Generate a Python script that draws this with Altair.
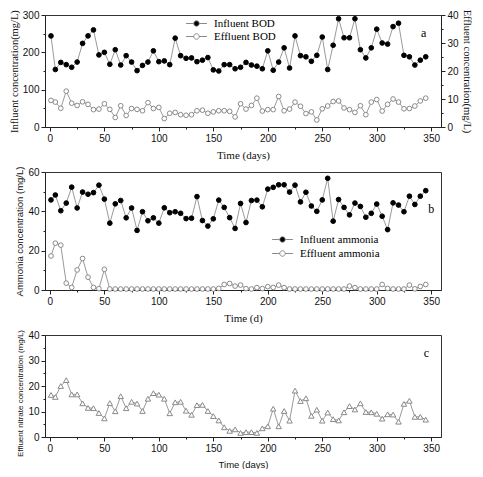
import altair as alt
import pandas as pd

# ---------------- data ----------------
days = [1, 5, 10, 15, 20, 25, 30, 35, 40, 45, 50, 55, 60, 65, 70, 75, 80, 85, 90, 95,
        100, 105, 110, 115, 120, 125, 130, 135, 140, 145, 150, 155, 160, 165, 170, 175, 180, 185, 190, 195,
        200, 205, 210, 215, 220, 225, 230, 235, 240, 245, 250, 255, 260, 265, 270, 275, 280, 285, 290, 295,
        300, 305, 310, 315, 320, 325, 330, 335, 340, 345]

bod_in = [244, 154, 173, 167, 160, 174, 224, 244, 260, 193,
          200, 168, 207, 166, 191, 174, 151, 165, 174, 204,
          175, 177, 167, 238, 191, 184, 185, 175, 179, 186,
          153, 150, 167, 167, 156, 160, 173, 166, 163, 156,
          204, 152, 174, 212, 158, 244, 191, 188, 176, 192,
          241, 154, 219, 290, 239, 239, 290, 207, 185, 212,
          262, 225, 222, 269, 278, 192, 188, 166, 179, 188]

bod_eff = [9.5, 8.9, 6.7, 12.8, 8.5, 7.7, 9.0, 8.1, 6.2, 6.4,
           8.3, 6.3, 3.4, 7.6, 4.1, 6.6, 6.3, 5.8, 8.7, 6.6,
           7.0, 3.0, 4.9, 5.2, 4.4, 4.2, 4.4, 5.8, 6.0, 4.9,
           5.4, 5.8, 5.8, 5.6, 3.6, 8.3, 6.4, 7.7, 10.3, 5.7,
           6.2, 6.2, 10.9, 5.8, 6.4, 8.9, 7.4, 4.8, 5.4, 2.5,
           6.5, 7.5, 9.1, 9.3, 6.8, 6.2, 5.2, 7.6, 4.4, 8.9,
           9.8, 5.7, 8.1, 10.0, 8.9, 6.5, 6.6, 7.5, 9.3, 10.3]

nh4_in = [45.8, 48.3, 40.3, 44.2, 52.3, 41.7, 49.8, 48.7, 49.5, 53.3,
          46.2, 34.0, 43.8, 45.5, 36.7, 41.7, 30.3, 39.8, 35.2, 36.7,
          34.0, 41.8, 39.3, 39.8, 39.0, 36.3, 36.5, 47.5, 35.3, 32.5,
          36.2, 45.7, 42.0, 36.8, 31.3, 44.0, 34.3, 45.5, 45.7, 42.3,
          51.3, 52.2, 53.5, 53.5, 49.8, 53.3, 44.8, 49.7, 42.7, 40.0,
          45.8, 56.8, 35.0, 46.0, 42.0, 38.2, 44.2, 42.5, 37.0, 39.0,
          43.7, 37.5, 30.7, 44.3, 43.2, 39.8, 47.7, 43.5, 47.7, 50.5]

nh4_eff = [17.3, 23.8, 22.8, 3.5, 1.3, 10.2, 16.0, 6.5, 1.3, 0.7,
           10.5, 0.5, 0.5, 0.5, 0.5, 0.5, 0.5, 0.5, 0.5, 0.5,
           0.5, 0.5, 0.5, 0.5, 0.5, 0.5, 0.5, 0.5, 0.5, 0.5,
           0.5, 0.8, 2.8, 3.3, 2.0, 2.5, 0.7, 0.5, 1.2, 0.7,
           1.7, 1.3, 2.5, 1.2, 0.5, 0.5, 0.5, 0.5, 0.5, 0.5,
           0.5, 0.5, 0.5, 0.5, 0.5, 2.0, 1.2, 0.5, 0.5, 0.5,
           0.5, 2.8, 0.8, 0.5, 0.5, 0.5, 2.5, 0.6, 1.8, 2.8]

nitrate = [16.5, 15.7, 20.0, 22.3, 16.7, 16.7, 13.2, 11.4, 11.3, 9.4,
           7.3, 13.3, 10.1, 16.0, 11.3, 13.8, 13.1, 10.2, 15.0, 17.2,
           16.6, 15.0, 9.3, 13.6, 13.8, 10.3, 8.7, 12.5, 12.6, 10.2,
           8.2, 6.5, 3.8, 2.4, 3.0, 1.6, 1.9, 1.9, 1.6, 3.4,
           4.2, 11.1, 4.2, 10.2, 6.4, 18.2, 14.1, 15.2, 8.3, 10.7,
           6.4, 9.6, 7.0, 6.5, 9.7, 12.1, 10.8, 13.2, 9.8, 9.7,
           9.1, 7.2, 8.9, 8.8, 6.0, 13.0, 14.2, 7.9, 7.9, 6.8]

series_a = ["Influent BOD", "Effluent BOD"]
series_b = ["Influent ammonia", "Effluent ammonia"]

x_major_vals = [0, 50, 100, 150, 200, 250, 300, 350]
x_minor_vals = [25, 75, 125, 175, 225, 275, 325]

# ---------------- styling ----------------
SERIF = "Liberation Serif"
SANS = "Liberation Sans"
LINE = "#9a9a9a"
GRAY_MK = "#8a8a8a"
W = 396
X_DOM = [-4.5, 359]
SYM = "M-3.8,0L-1,0M1,0L3.8,0M-1,0A1,1,0,1,0,1,0A1,1,0,1,0,-1,0Z"

xscale = alt.Scale(domain=X_DOM, nice=False, zero=False)


def x_major(title, font, size, pad):
    return alt.Axis(values=x_major_vals, title=title, titleFont=font, titleFontSize=size,
                    titleFontWeight="normal", titlePadding=pad, labelFont=SANS, labelFontSize=10,
                    tickSize=4, labelPadding=2, orient="bottom", grid=False)


x_minor = alt.Axis(values=x_minor_vals, labels=False, domain=False, tickSize=2, title=None,
                   orient="bottom", grid=False)


def y_major(vals, title, font, size, orient="left", pad=3, **kw):
    return alt.Axis(values=vals, title=title, titleFont=font, titleFontSize=size,
                    titleFontWeight="normal", titlePadding=pad, labelFont=SANS, labelFontSize=10,
                    tickSize=4, labelPadding=2, orient=orient, grid=False, **kw)


def y_minor(vals, orient="left"):
    return alt.Axis(values=vals, labels=False, domain=False, tickSize=2, title=None,
                    orient=orient, grid=False)


def legend(x, y, rowpad):
    return alt.Legend(title=None, orient="none", legendX=x, legendY=y, symbolType=SYM,
                      symbolSize=30, symbolStrokeColor=GRAY_MK, symbolStrokeWidth=1,
                      labelFont=SERIF, labelFontSize=11, labelOffset=12, rowPadding=rowpad,
                      padding=0, labelColor="black")


def frame(vals, name):
    return pd.DataFrame({"day": days, "value": vals, "series": name})


# ---------------- panel a ----------------
a_in = frame(bod_in, series_a[0])
a_eff = frame(bod_eff, series_a[1])
ya = alt.Scale(domain=[0, 300], nice=False)
ya2 = alt.Scale(domain=[0, 40], nice=False)
fill_a = alt.Scale(domain=series_a, range=["black", "white"])
leg_a = legend(146, 3, 1)

a1 = alt.Chart(a_in).mark_line(color=LINE, strokeWidth=1).encode(
    x=alt.X("day:Q", scale=xscale, axis=x_major("Time (days)", SERIF, 11, 6)),
    y=alt.Y("value:Q", scale=ya, axis=y_major([0, 100, 200, 300], "Influent concentration(mg/L)", SERIF, 10.5)))
a2 = alt.Chart(a_in).mark_point(shape="circle", size=22, stroke="black", strokeWidth=1, opacity=1).encode(
    x=alt.X("day:Q", scale=xscale, axis=x_minor),
    y=alt.Y("value:Q", scale=ya, axis=y_minor([50, 150, 250])),
    fill=alt.Fill("series:N", scale=fill_a, legend=leg_a))
a3 = alt.Chart(a_eff).mark_line(color=LINE, strokeWidth=1).encode(
    x=alt.X("day:Q", scale=xscale, axis=None),
    y=alt.Y("value:Q", scale=ya2, axis=y_major([0, 10, 20, 30, 40], "Effluent concentration(mg/L)", SERIF, 10.5, orient="right")))
a4 = alt.Chart(a_eff).mark_point(shape="circle", size=22, stroke=GRAY_MK, strokeWidth=1, opacity=1).encode(
    x=alt.X("day:Q", scale=xscale, axis=None),
    y=alt.Y("value:Q", scale=ya2, axis=y_minor([5, 15, 25, 35], orient="right")),
    fill=alt.Fill("series:N", scale=fill_a, legend=leg_a))
a5 = alt.Chart(pd.DataFrame({"day": [343], "value": [251], "t": ["a"]})).mark_text(
    font=SERIF, fontSize=12, color="black").encode(
    x=alt.X("day:Q", scale=xscale, axis=None),
    y=alt.Y("value:Q", scale=ya, axis=None), text="t:N")

panel_a = alt.layer(a1, a2, a3, a4, a5).resolve_scale(y="independent").resolve_axis(
    x="independent", y="independent").properties(width=W, height=112)

# ---------------- panel b ----------------
b_in = frame(nh4_in, series_b[0])
b_eff = frame(nh4_eff, series_b[1])
yb = alt.Scale(domain=[0, 60], nice=False)
fill_b = alt.Scale(domain=series_b, range=["black", "white"])
leg_b = legend(232, 62, 2)

b1 = alt.Chart(b_in).mark_line(color=LINE, strokeWidth=1).encode(
    x=alt.X("day:Q", scale=xscale, axis=x_major("Time (d)", SERIF, 11, 6)),
    y=alt.Y("value:Q", scale=yb, axis=y_major([0, 20, 40, 60], "Ammonia concentration (mg/L)", SANS, 9.5)))
b2 = alt.Chart(b_in).mark_point(shape="circle", size=22, stroke="black", strokeWidth=1, opacity=1).encode(
    x=alt.X("day:Q", scale=xscale, axis=x_minor),
    y=alt.Y("value:Q", scale=yb, axis=y_minor([10, 30, 50])),
    fill=alt.Fill("series:N", scale=fill_b, legend=leg_b))
b3 = alt.Chart(b_eff).mark_line(color=LINE, strokeWidth=1).encode(
    x=alt.X("day:Q", scale=xscale, axis=None),
    y=alt.Y("value:Q", scale=yb, axis=None))
b4 = alt.Chart(b_eff).mark_point(shape="circle", size=22, stroke=GRAY_MK, strokeWidth=1, opacity=1).encode(
    x=alt.X("day:Q", scale=xscale, axis=None),
    y=alt.Y("value:Q", scale=yb, axis=None),
    fill=alt.Fill("series:N", scale=fill_b, legend=leg_b))
b5 = alt.Chart(pd.DataFrame({"day": [350], "value": [41], "t": ["b"]})).mark_text(
    font=SERIF, fontSize=12, color="black").encode(
    x=alt.X("day:Q", scale=xscale, axis=None),
    y=alt.Y("value:Q", scale=yb, axis=None), text="t:N")

panel_b = alt.layer(b1, b2, b3, b4, b5).resolve_axis(
    x="independent", y="independent").properties(width=W, height=118)

# ---------------- panel c ----------------
c_df = frame(nitrate, "Effluent nitrate")
yc = alt.Scale(domain=[0, 40], nice=False)

c1 = alt.Chart(c_df).mark_line(color=LINE, strokeWidth=1).encode(
    x=alt.X("day:Q", scale=xscale, axis=x_major("Time (days)", SANS, 9.5, 6)),
    y=alt.Y("value:Q", scale=yc, axis=y_major([0, 10, 20, 30, 40], "Effluent nitrate concentration (mg/L)",
                                              SANS, 8, titleY=58)))
c2 = alt.Chart(c_df).mark_point(shape="triangle-up", size=30, stroke=GRAY_MK, strokeWidth=1,
                                fill="white", filled=True, opacity=1).encode(
    x=alt.X("day:Q", scale=xscale, axis=x_minor),
    y=alt.Y("value:Q", scale=yc, axis=y_minor([5, 15, 25, 35])))
c3 = alt.Chart(pd.DataFrame({"day": [345.6], "value": [32.8], "t": ["c"]})).mark_text(
    font=SERIF, fontSize=12, color="black").encode(
    x=alt.X("day:Q", scale=xscale, axis=None),
    y=alt.Y("value:Q", scale=yc, axis=None), text="t:N")

panel_c = alt.layer(c1, c2, c3).resolve_axis(
    x="independent", y="independent").properties(width=W, height=102)

chart = alt.vconcat(panel_a, panel_b, panel_c, spacing=4).resolve_scale(
    fill="independent"
).properties(
    padding={"left": 0, "top": 0, "right": 0, "bottom": 0}
).configure_view(stroke="#333333", strokeWidth=1).configure_axis(
    domainColor="#222222", tickColor="#222222", labelColor="#111111", titleColor="#111111"
)

chart.save("out.html", embed_options={"renderer": "svg", "actions": False})
